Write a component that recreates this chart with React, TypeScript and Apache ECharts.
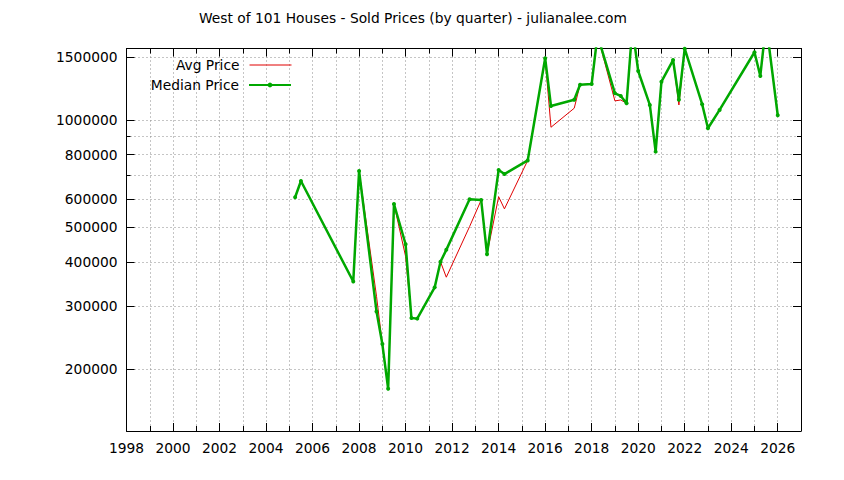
import { useEffect, useRef } from "react";
import * as echarts from "echarts";

const FONT = "DejaVu Sans";

// quarter positions as decimal years
const quarters = [
  2005.25, 2005.5, 2007.75, 2008.0, 2008.75, 2009.0, 2009.25, 2009.5, 2010.0, 2010.25,
  2010.5, 2011.25, 2011.5, 2011.75, 2012.75, 2013.25, 2013.5, 2014.0, 2014.25, 2015.25,
  2016.0, 2016.25, 2017.25, 2017.5, 2018.0, 2018.25, 2019.0, 2019.25, 2019.5, 2019.75,
  2020.0, 2020.5, 2020.75, 2021.0, 2021.5, 2021.75, 2022.0, 2022.75, 2023.0, 2023.5,
  2025.0, 2025.25, 2025.5, 2026.0,
];

const medianPrices = [
  607000, 674000, 352000, 719000, 290000, 235000, 176000, 581000, 448000, 278000,
  277000, 339000, 400000, 432000, 599000, 596000, 420000, 724000, 705000, 770000,
  1490000, 1095000, 1140000, 1256000, 1262000, 1730000, 1188000, 1168000, 1114000, 1820000,
  1372000, 1102000, 815000, 1281000, 1473000, 1140000, 1585000, 1107000, 948000, 1067000,
  1549000, 1329000, 1870000, 1031000,
];

const avgPrices = [
  607000, 674000, 352000, 719000, 320000, 235000, 176000, 581000, 414000, 278000,
  277000, 339000, 400000, 362000, 502000, 596000, 420000, 609000, 563000, 770000,
  1490000, 954000, 1079000, 1256000, 1262000, 1730000, 1131000, 1138000, 1114000, 1820000,
  1372000, 1102000, 815000, 1281000, 1473000, 1102000, 1585000, 1107000, 948000, 1067000,
  1549000, 1329000, 1870000, 1031000,
];

// labelled ticks, and the unlabelled ones in between
const majorPriceTicks = [200000, 300000, 400000, 500000, 600000, 800000, 1000000, 1500000];
const minorPriceTicks = [700000, 900000];

const YEAR_MIN = 1998;
const YEAR_MAX = 2027;
const PRICE_MIN = 134000;
const PRICE_MAX = 1587000;

const dotted = { color: "#8a8a8a", width: 1, type: [1, 3] as number[] };
const black = { color: "#000", width: 1 };

export default function App() {
  const hostRef = useRef<HTMLDivElement>(null);

  useEffect(() => {
    const el = hostRef.current;
    if (!el) return;
    const chart = echarts.init(el, undefined, { renderer: "svg" });

    const xBase = {
      type: "value",
      min: YEAR_MIN,
      max: YEAR_MAX,
      axisLine: { show: true, onZero: false, lineStyle: black },
      axisLabel: { show: false },
      splitLine: { show: false },
    };
    const yBase = {
      type: "log",
      logBase: 10,
      min: PRICE_MIN,
      max: PRICE_MAX,
      axisLine: { show: true, onZero: false, lineStyle: black },
      axisLabel: { show: false },
      splitLine: { show: false },
    };
    const label = { fontFamily: FONT, fontSize: 13.8, color: "#000" };

    chart.setOption({
      animation: false,
      backgroundColor: "#fff",
      title: {
        text: "West of 101 Houses - Sold Prices (by quarter) - julianalee.com",
        left: 199,
        top: 11,
        padding: 0,
        textStyle: { ...label, fontWeight: "normal" },
      },
      legend: [
        {
          data: [{ name: "Avg Price", itemStyle: { opacity: 0 }, lineStyle: { width: 1 } }],
          right: 552,
          top: 58,
          padding: 0,
          align: "right",
          itemWidth: 42,
          itemHeight: 6,
          textStyle: { ...label, padding: [0, 5, 0, 0] },
        },
        {
          data: [{ name: "Median Price" }],
          right: 552,
          top: 78,
          padding: 0,
          align: "right",
          itemWidth: 42,
          itemHeight: 6,
          textStyle: { ...label, padding: [0, 5, 0, 0] },
        },
      ],
      grid: { left: 126.5, right: 43, top: 48.5, bottom: 49 },
      xAxis: [
        {
          ...xBase,
          position: "bottom",
          interval: 2,
          axisTick: { inside: true, length: 8, lineStyle: black },
          axisLabel: {
            ...label,
            show: true,
            margin: 10,
            formatter: (v: number) => (v % 2 === 0 ? String(v) : ""),
          },
        },
        {
          ...xBase,
          position: "bottom",
          interval: 1,
          axisLine: { show: false },
          axisTick: { inside: true, length: 5, lineStyle: black },
          splitLine: { show: true, lineStyle: dotted },
        },
        {
          ...xBase,
          position: "top",
          interval: 2,
          axisTick: { inside: true, length: 8, lineStyle: black },
        },
        {
          ...xBase,
          position: "top",
          interval: 1,
          axisLine: { show: false },
          axisTick: { inside: true, length: 5, lineStyle: black },
        },
      ],
      yAxis: [
        {
          ...yBase,
          position: "left",
          axisTick: { inside: true, length: 8, lineStyle: black, customValues: majorPriceTicks },
          axisLabel: {
            ...label,
            show: true,
            margin: 9,
            customValues: majorPriceTicks,
            formatter: (v: number) => String(Math.round(v)),
          },
          splitLine: { show: true, lineStyle: dotted },
        },
        {
          ...yBase,
          position: "left",
          axisLine: { show: false },
          axisTick: { inside: true, length: 4, lineStyle: black, customValues: minorPriceTicks },
          splitLine: { show: true, lineStyle: dotted },
        },
        {
          ...yBase,
          position: "right",
          axisTick: { inside: true, length: 8, lineStyle: black, customValues: majorPriceTicks },
        },
        {
          ...yBase,
          position: "right",
          axisLine: { show: false },
          axisTick: { inside: true, length: 4, lineStyle: black, customValues: minorPriceTicks },
        },
      ],
      series: [
        {
          name: "Avg Price",
          type: "line",
          xAxisIndex: 0,
          yAxisIndex: 0,
          symbol: "none",
          lineStyle: { color: "#e00000", width: 1 },
          itemStyle: { color: "#e00000" },
          data: quarters.map((q, i) => [q, avgPrices[i]]),
          z: 2,
        },
        {
          name: "Median Price",
          type: "line",
          xAxisIndex: 0,
          yAxisIndex: 0,
          symbol: "circle",
          symbolSize: 4,
          lineStyle: { color: "#00a800", width: 2.5 },
          itemStyle: { color: "#00a800" },
          data: quarters.map((q, i) => [q, medianPrices[i]]),
          z: 3,
        },
      ],
    });

    return () => chart.dispose();
  }, []);

  return (
    <div
      ref={hostRef}
      style={{ position: "fixed", left: 0, top: 0, width: 844, height: 480, background: "#fff" }}
    />
  );
}
